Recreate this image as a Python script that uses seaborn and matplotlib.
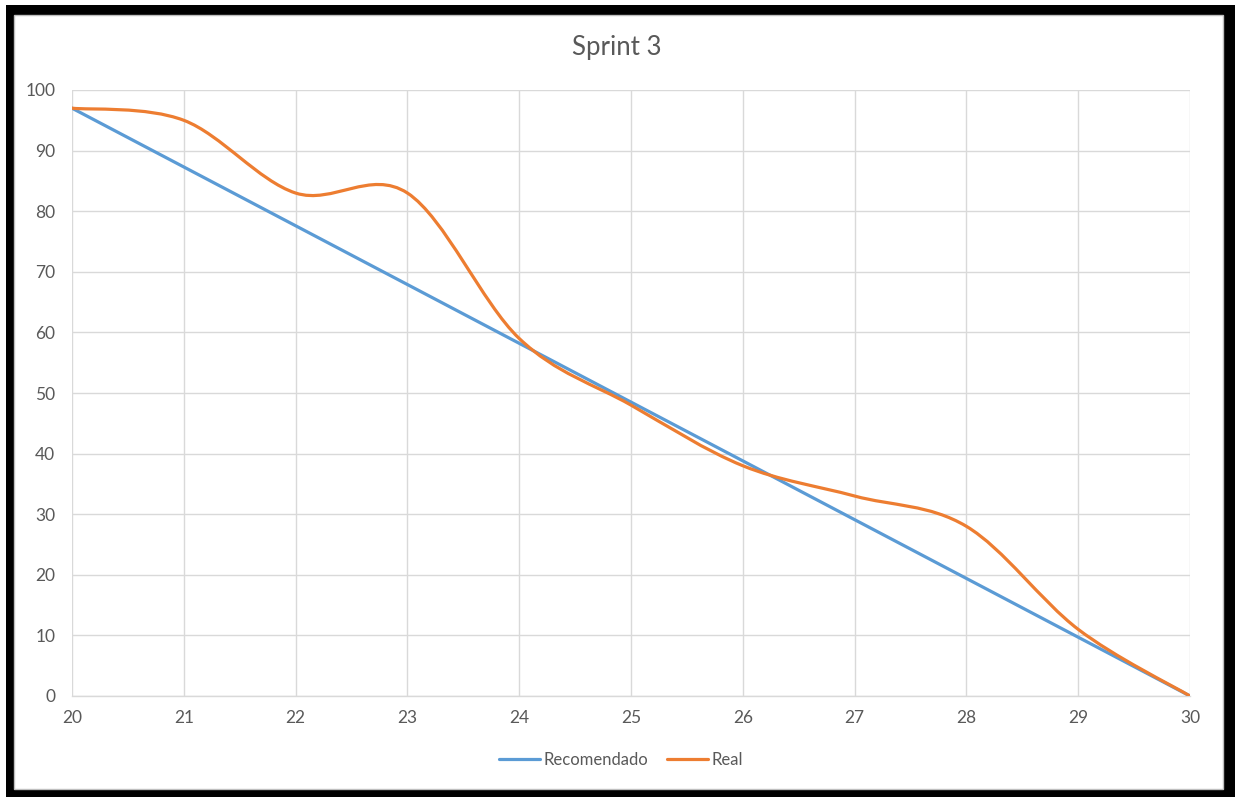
import matplotlib
matplotlib.use("Agg")
import matplotlib.pyplot as plt
from matplotlib.path import Path
from matplotlib.patches import PathPatch, Rectangle
from matplotlib.lines import Line2D
import seaborn as sns
import pandas as pd

# data
dias = [20, 21, 22, 23, 24, 25, 26, 27, 28, 29, 30]
recomendado = [97, 87.3, 77.6, 67.9, 58.2, 48.5, 38.8, 29.1, 19.4, 9.7, 0]
real = [97, 95, 83, 83, 59, 48, 38, 33, 28, 11, 0]

azul = "#5B9BD5"
naranja = "#ED7D31"
gris_txt = "#595959"
gris_grid = "#D9D9D9"

sns.set_theme(style="white")
plt.rcParams["font.family"] = ["Lato", "DejaVu Sans"]

fig = plt.figure(figsize=(12.35, 7.97), dpi=100)

# black frame around the picture
W, H = 1235, 797
fig.patches.append(Rectangle((6 / W, 0), 1 - 6 / W, 1 - 5 / H, transform=fig.transFigure,
                             facecolor="black", edgecolor="none", zorder=-3))
fig.patches.append(Rectangle((14 / W, 8 / H), (1223 - 14) / W, (782 - 8) / H, transform=fig.transFigure,
                             facecolor="white", edgecolor="#BFBFBF", linewidth=1, zorder=-2))

ax = fig.add_axes([72 / W, 1 - 696 / H, (1190 - 72) / W, (696 - 90) / H])
ax.set_facecolor("none")

df = pd.DataFrame({"dia": dias, "Recomendado": recomendado})
sns.lineplot(data=df, x="dia", y="Recomendado", color=azul, linewidth=2.3, ax=ax,
             solid_capstyle="round", zorder=3)

# smoothed line like the spreadsheet one (cubic bezier through the points)
n = len(dias)
verts = [(dias[0], real[0])]
codes = [Path.MOVETO]
for i in range(n - 1):
    x0, y0 = dias[max(i - 1, 0)], real[max(i - 1, 0)]
    x1, y1 = dias[i], real[i]
    x2, y2 = dias[i + 1], real[i + 1]
    x3, y3 = dias[min(i + 2, n - 1)], real[min(i + 2, n - 1)]
    verts += [(x1 + (x2 - x0) / 6, y1 + (y2 - y0) / 6),
              (x2 - (x3 - x1) / 6, y2 - (y3 - y1) / 6),
              (x2, y2)]
    codes += [Path.CURVE4] * 3
ax.add_patch(PathPatch(Path(verts, codes), facecolor="none", edgecolor=naranja,
                       linewidth=2.3, capstyle="round", zorder=4))

ax.set_xlim(20, 30)
ax.set_ylim(0, 100)
ax.set_xticks(range(20, 31))
ax.set_yticks(range(0, 101, 10))
ax.grid(True, color=gris_grid, linewidth=1)
ax.set_axisbelow(True)
for s in ["top", "right", "left"]:
    ax.spines[s].set_visible(False)
ax.spines["bottom"].set_color(gris_grid)
ax.spines["bottom"].set_linewidth(1)
ax.tick_params(axis="both", length=0, labelsize=12.5, labelcolor=gris_txt)
ax.tick_params(axis="x", pad=10)
ax.tick_params(axis="y", pad=12)
ax.set_xlabel("")
ax.set_ylabel("")

fig.text(617 / W, 1 - 48 / H, "Sprint 3", ha="center", va="center", fontsize=18.5, color=gris_txt)

handles = [Line2D([], [], color=azul, linewidth=2.3),
           Line2D([], [], color=naranja, linewidth=2.3)]
fig.legend(handles, ["Recomendado", "Real"], loc="center", bbox_to_anchor=(621 / W, 1 - 760 / H),
           ncol=2, frameon=False, fontsize=12, labelcolor=gris_txt, handlelength=2.5,
           handletextpad=0.2, columnspacing=1.1)

fig.savefig("out.png", dpi=100)
